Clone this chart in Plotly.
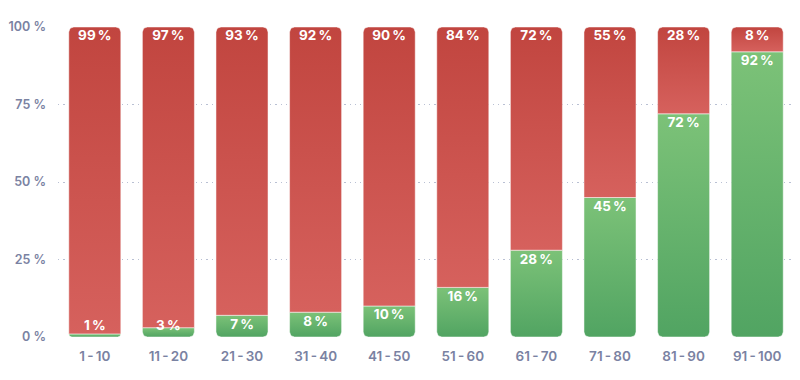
import numpy as np
import plotly.graph_objects as go

categories = ["1\u2009-\u200910", "11\u2009-\u200920", "21\u2009-\u200930", "31\u2009-\u200940",
              "41\u2009-\u200950", "51\u2009-\u200960", "61\u2009-\u200970", "71\u2009-\u200980",
              "81\u2009-\u200990", "91\u2009-\u2009100"]
green_values = [1, 3, 7, 8, 10, 16, 28, 45, 72, 92]
red_values = [99, 97, 93, 92, 90, 84, 72, 55, 28, 8]
y_tickvals = [0, 25, 50, 75, 100]
y_ticktext = ["0 %", "25 %", "50 %", "75 %", "100 %"]

# page body has an 8px default margin -> figure is 792x372 placed at (8, 8)
PAGE_OFF = 8
W, H = 800 - PAGE_OFF, 380 - PAGE_OFF
ML, MR, MT, MB = 58 - PAGE_OFF, 6, 27 - PAGE_OFF, 43
plot_w = W - ML - MR
plot_h = H - MT - MB
x_range = [-0.5, len(categories) - 0.5]
y_range = [0, 100]
ux = (x_range[1] - x_range[0]) / plot_w   # data units per px
uy = (y_range[1] - y_range[0]) / plot_h

bar_w = 0.707
radius_px = 5

RED = ["#d6615d", "#c1453f"]     # bottom, top
GREEN = ["#51a462", "#7cc278"]   # bottom, top


def seg_path(xc, y0, y1, round_bottom, round_top):
    hpx = (y1 - y0) / uy
    r = min(radius_px, hpx if (round_bottom != round_top) else hpx / 2)
    rx, ry = r * ux, r * uy
    xl, xr = xc - bar_w / 2, xc + bar_w / 2
    xs, ys = [], []
    t = np.linspace(0, np.pi / 2, 8)
    if round_bottom and r > 0:
        for a in t:
            xs.append(xl + rx - rx * np.cos(a)); ys.append(y0 + ry - ry * np.sin(a))
        for a in t[::-1]:
            xs.append(xr - rx + rx * np.cos(a)); ys.append(y0 + ry - ry * np.sin(a))
    else:
        xs += [xl, xr]; ys += [y0, y0]
    if round_top and r > 0:
        for a in t:
            xs.append(xr - rx + rx * np.cos(a)); ys.append(y1 - ry + ry * np.sin(a))
        for a in t[::-1]:
            xs.append(xl + rx - rx * np.cos(a)); ys.append(y1 - ry + ry * np.sin(a))
    else:
        xs += [xr, xl]; ys += [y1, y1]
    xs.append(xs[0]); ys.append(ys[0])
    return xs, ys


fig = go.Figure()

for i, (g, rv) in enumerate(zip(green_values, red_values)):
    xs, ys = seg_path(i, 0, g, True, False)
    fig.add_trace(go.Scatter(
        x=xs, y=ys, mode="lines", fill="toself",
        line=dict(color="rgba(255,255,255,0.5)", width=1),
        fillgradient=dict(type="vertical", start=0, stop=g,
                          colorscale=[[0, GREEN[0]], [1, GREEN[1]]]),
        hoverinfo="skip", showlegend=False))
    xs, ys = seg_path(i, g, g + rv, False, True)
    fig.add_trace(go.Scatter(
        x=xs, y=ys, mode="lines", fill="toself",
        line=dict(color="rgba(255,255,255,0.5)", width=1),
        fillgradient=dict(type="vertical", start=g, stop=g + rv,
                          colorscale=[[0, RED[0]], [1, RED[1]]]),
        hoverinfo="skip", showlegend=False))

off = 10 * uy
label_font = dict(family="Inter, 'Open Sans', sans-serif", size=13.5, color="white", weight=700)
fig.add_trace(go.Scatter(
    x=list(range(len(categories))),
    y=[max(g - off, off) for g in green_values],
    mode="text", text=[f"{g}\u2009%" for g in green_values],
    textfont=label_font, textposition="middle center", cliponaxis=False,
    hoverinfo="skip", showlegend=False))
fig.add_trace(go.Scatter(
    x=list(range(len(categories))),
    y=[g + rv - off for g, rv in zip(green_values, red_values)],
    mode="text", text=[f"{rv}\u2009%" for rv in red_values],
    textfont=label_font, textposition="middle center", cliponaxis=False,
    hoverinfo="skip", showlegend=False))

x_tick_font = dict(family="Inter, 'Open Sans', sans-serif", size=13.5, color="#7a82a2", weight=600)
y_tick_font = dict(family="Inter, 'Open Sans', sans-serif", size=12.5, color="#7a82a2", weight=600)
fig.update_layout(
    width=W, height=H,
    margin=dict(l=ML, r=MR, t=MT, b=MB, autoexpand=False),
    paper_bgcolor="white", plot_bgcolor="white",
    font=dict(family="Inter, 'Open Sans', sans-serif"),
    xaxis=dict(range=x_range, tickvals=list(range(len(categories))),
               ticktext=categories, showgrid=False, zeroline=False,
               showline=False, ticks="", automargin=False, ticklabelstandoff=9,
               tickfont=x_tick_font, fixedrange=True),
    yaxis=dict(range=y_range, tickvals=y_tickvals, ticktext=y_ticktext,
               showgrid=True, gridcolor="#b9c0d3", griddash="1.3px,4px", gridwidth=1.4,
               zeroline=False, showline=False, ticks="", ticklabelstandoff=11,
               automargin=False, tickfont=y_tick_font, fixedrange=True),
)

fig.write_html("out.html")
